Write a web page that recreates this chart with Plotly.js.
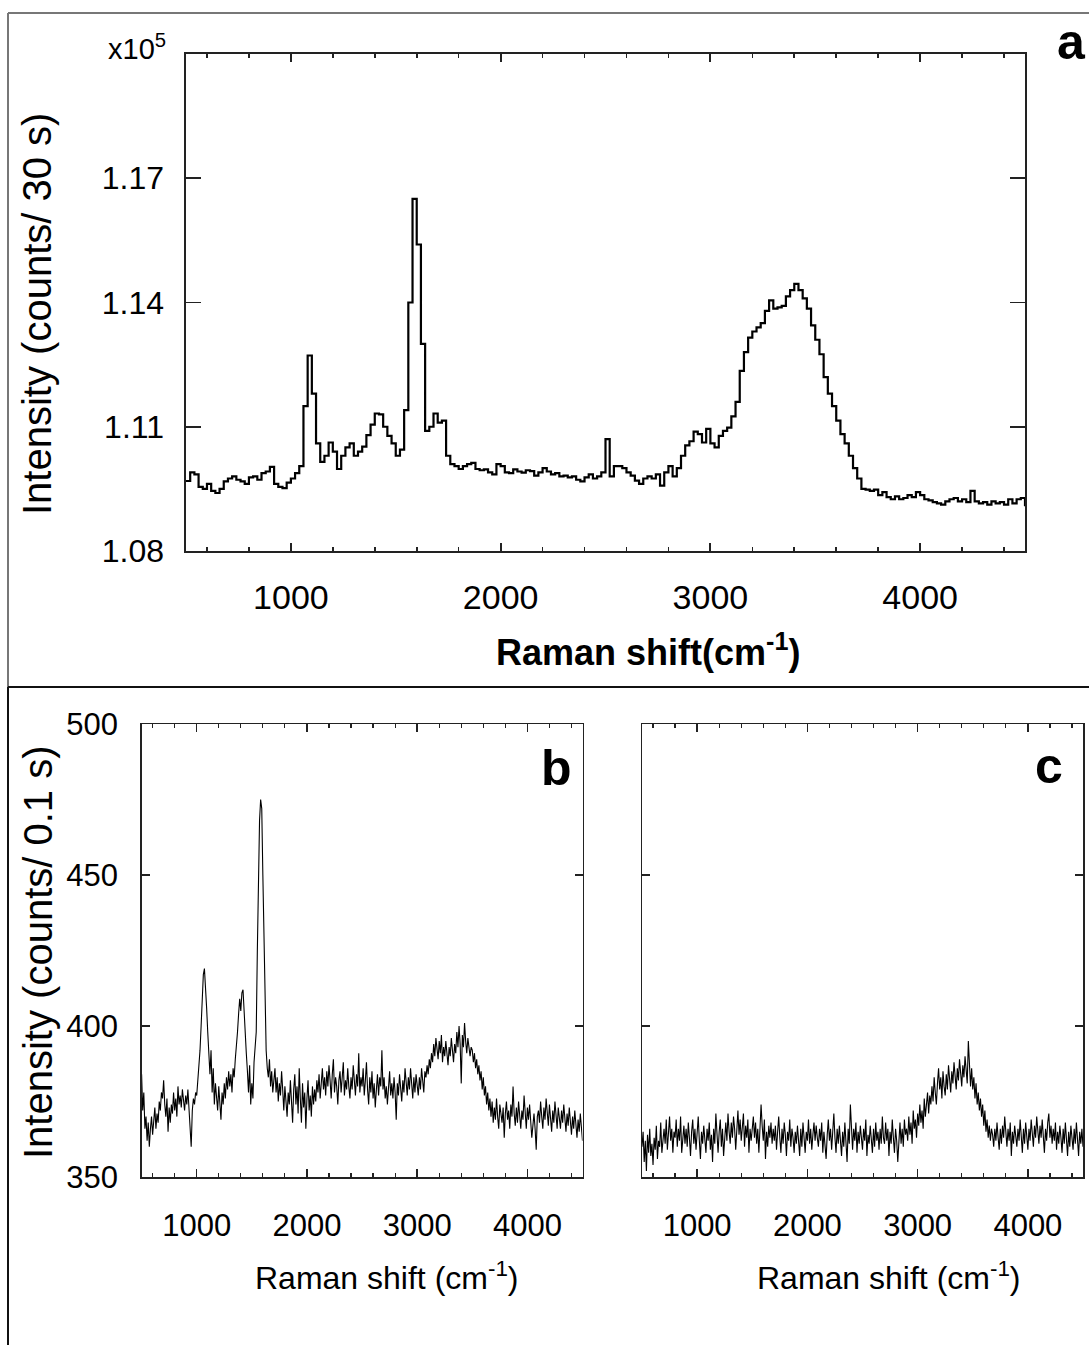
<!DOCTYPE html>
<html>
<head>
<meta charset="utf-8">
<script src="https://cdn.plot.ly/plotly-3.0.1.min.js"></script>
<style>html,body{margin:0;padding:0;background:#fff;}#chart{width:1089px;height:1345px;}</style>
</head>
<body>
<div id="chart"></div>
<script>
// ---------- DATA ----------
const shiftStart = 500;      // Raman shift of first sample (cm-1)
const stepA = 20;            // sampling step, panel a
const stepBC = 10;           // sampling step, panels b and c

// Panel a: intensity (x10^5 counts / 30 s)
const intensityA = [
1.0969,1.0990,1.0985,1.0955,1.0950,1.0962,1.0945,1.0940,1.0950,1.0968,
1.0975,1.0980,1.0972,1.0968,1.0962,1.0978,1.0980,1.0972,1.0988,1.0992,
1.1003,1.0962,1.0955,1.0952,1.0965,1.0975,1.0988,1.1005,1.1150,1.1272,
1.1180,1.1060,1.1015,1.1030,1.1062,1.1040,1.0998,1.1030,1.1050,1.1060,
1.1030,1.1040,1.1052,1.1080,1.1105,1.1132,1.1130,1.1100,1.1078,1.1060,
1.1030,1.1045,1.1140,1.1400,1.1650,1.1540,1.1300,1.1090,1.1100,1.1132,
1.1110,1.1115,1.1030,1.1010,1.1005,1.0998,1.1005,1.1010,1.1013,1.0998,
1.0995,1.0997,1.0990,1.0985,1.1010,1.1005,1.0990,1.0988,1.0997,1.0992,
1.0989,1.0995,1.0993,1.0982,1.0990,1.1000,1.0992,1.0985,1.0988,1.0980,
1.0982,1.0978,1.0980,1.0972,1.0968,1.0978,1.0985,1.0975,1.0980,1.0990,
1.1070,1.0980,1.1005,1.1005,1.1000,1.0990,1.0982,1.0970,1.0962,1.0975,
1.0980,1.0975,1.0985,1.0958,1.0990,1.1005,1.0980,1.1000,1.1030,1.1055,
1.1065,1.1088,1.1082,1.1062,1.1095,1.1060,1.1050,1.1078,1.1090,1.1098,
1.1125,1.1160,1.1235,1.1280,1.1315,1.1330,1.1340,1.1350,1.1380,1.1405,
1.1385,1.1388,1.1392,1.1415,1.1430,1.1445,1.1430,1.1410,1.1385,1.1345,
1.1310,1.1275,1.1220,1.1180,1.1150,1.1115,1.1082,1.1060,1.1030,1.1000,
1.0975,1.0950,1.0948,1.0945,1.0948,1.0935,1.0942,1.0930,1.0925,1.0932,
1.0925,1.0928,1.0935,1.0930,1.0942,1.0935,1.0925,1.0922,1.0918,1.0915,
1.0912,1.0920,1.0925,1.0928,1.0920,1.0925,1.0918,1.0945,1.0920,1.0915,
1.0918,1.0912,1.0920,1.0915,1.0918,1.0912,1.0925,1.0915,1.0925,1.0928,
1.0908
];

// Panel b: intensity (counts / 0.1 s)
const intensityB = [
384,372,378,366,370,362,368,360,366,370,364,369,373,366,371,368,375,372,378,376,
382,374,370,376,365,373,368,374,371,378,372,376,370,380,374,377,373,379,375,372,
377,374,379,373,364,360,372,376,374,378,377,382,385,392,400,410,417,419,414,406,
398,390,384,392,378,386,374,381,376,372,380,375,369,378,374,381,376,383,379,385,
380,384,378,386,383,389,393,398,404,409,405,411,412,404,394,391,385,378,387,374,
381,376,388,393,398,425,452,468,475,472,450,428,405,392,386,383,389,380,385,378,
382,386,378,383,375,381,377,385,379,372,380,375,370,378,374,382,376,368,379,384,
374,380,371,386,376,368,381,373,378,366,376,382,372,377,370,380,374,379,375,382,
378,384,376,381,386,379,383,377,385,380,387,382,376,384,389,378,383,380,374,382,
385,378,383,388,377,382,379,386,380,376,383,379,387,381,377,384,380,391,378,383,
380,386,377,382,388,379,374,383,378,385,376,381,373,379,384,377,383,380,392,379,
383,376,380,374,379,385,377,381,376,383,378,369,381,377,384,379,375,382,378,386,
380,377,383,379,386,381,376,383,378,384,380,377,383,379,386,382,378,385,383,387,
384,389,386,391,388,394,390,396,392,389,395,391,397,388,393,390,395,391,387,393,
390,396,392,388,394,391,398,393,400,394,381,397,393,401,395,391,396,392,390,393,
392,388,391,386,389,384,387,382,385,379,383,377,380,374,378,372,376,370,375,368,
373,369,376,370,366,374,371,368,373,363,371,375,369,372,366,374,370,380,371,367,
373,368,375,370,366,372,369,377,371,366,373,369,374,368,363,367,371,366,359,370,
372,368,375,370,366,373,369,376,371,367,374,370,365,372,368,375,370,366,373,369,
366,372,368,374,369,365,371,367,373,368,364,370,366,372,367,363,369,365,371,366,362
];

// Panel c: intensity (counts / 0.1 s)
const intensityC = [
360,365,355,362,352,364,358,366,357,361,354,363,359,367,356,362,360,368,358,363,
366,361,369,359,364,370,362,366,358,365,363,369,360,366,362,370,358,364,367,361,
366,360,368,363,357,365,369,361,366,359,364,370,362,356,365,361,367,363,358,366,
362,368,359,364,355,366,361,371,363,358,365,369,360,366,357,363,368,362,371,365,
361,368,363,370,366,359,367,372,364,369,362,366,371,360,367,363,369,358,366,362,
365,370,363,368,361,366,358,364,374,367,362,369,356,365,360,367,363,368,361,366,
362,367,359,365,370,363,358,366,361,368,364,357,365,362,369,360,366,363,358,365,
361,367,363,357,366,360,368,364,358,365,362,369,361,366,359,364,368,362,367,363,
360,366,362,368,358,365,361,356,364,369,362,366,359,364,371,363,358,366,361,367,
363,357,365,360,368,362,355,366,361,374,364,359,366,362,368,358,365,361,367,363,
359,366,362,369,357,364,361,367,363,358,366,360,368,362,365,359,366,361,370,363,
361,368,362,366,357,365,361,369,363,358,366,362,355,364,368,361,366,360,369,364,
366,362,370,364,368,361,372,366,369,363,371,367,374,368,372,366,376,370,373,378,
371,377,374,380,375,383,378,374,381,386,379,383,376,385,380,377,384,379,387,381,
378,385,381,388,383,379,386,382,389,384,380,387,383,390,385,381,395,384,380,386,
379,383,376,381,374,378,372,376,370,374,367,372,365,369,363,367,362,366,364,360,
366,362,368,363,359,366,361,367,363,370,364,360,366,362,368,357,365,361,367,363,
360,366,362,369,364,358,366,361,368,363,359,366,362,369,364,360,367,363,370,365,
361,367,363,369,364,358,366,362,368,371,363,367,361,366,362,368,359,365,361,367,
363,358,366,361,368,363,357,365,360,367,362,359,366,361,368,363,357,365,361,366,360
];

const xTickValues = [1000, 2000, 3000, 4000];
const yTicksA = [1.08, 1.11, 1.14, 1.17];
const yTickTextA = ['1.08', '1.11', '1.14', '1.17'];
const yTicksBC = [350, 400, 450, 500];
const yTickTextBC = ['350', '400', '450', '500'];

const titleYA = 'Intensity (counts/ 30 s)';
const titleXA = 'Raman shift(cm<sup>-1</sup>)';
const titleYB = 'Intensity (counts/ 0.1 s)';
const titleXBC = 'Raman shift (cm<sup>-1</sup>)';
const scaleLabel = 'x10<sup>5</sup>';
const panelLabels = ['a', 'b', 'c'];

// ---------- FIGURE ----------
const xA = intensityA.map((_, i) => shiftStart + i * stepA);
const xB = intensityB.map((_, i) => shiftStart + i * stepBC);
const xC = intensityC.map((_, i) => shiftStart + i * stepBC);

const FONT = 'Liberation Sans, Arial, Helvetica, sans-serif';
const W = 1089, H = 1345;
const px = v => v / W;
const py = v => 1 - v / H;

const traces = [
  {x: xA, y: intensityA, xaxis: 'x', yaxis: 'y', type: 'scatter', mode: 'lines',
   line: {color: '#000', width: 2.2, shape: 'hv'}, hoverinfo: 'skip'},
  {x: xB, y: intensityB, xaxis: 'x2', yaxis: 'y2', type: 'scatter', mode: 'lines',
   line: {color: '#000', width: 1.1}, hoverinfo: 'skip'},
  {x: xC, y: intensityC, xaxis: 'x3', yaxis: 'y3', type: 'scatter', mode: 'lines',
   line: {color: '#000', width: 1.1}, hoverinfo: 'skip'}
];

function xAxis(domain, anchor, fontSize, standoff, lw) {
  return {
    domain: domain, anchor: anchor, range: [500, 4500],
    tickmode: 'array', tickvals: xTickValues, ticktext: xTickValues.map(String),
    ticks: 'inside', ticklen: 8, tickwidth: lw, tickcolor: '#222',
    minor: {ticks: 'inside', tickmode: 'linear', tick0: 0, dtick: 200, ticklen: 4, tickwidth: lw * 0.8, tickcolor: '#222'},
    showline: true, linecolor: '#222', linewidth: lw, mirror: 'allticks',
    showgrid: false, zeroline: false,
    tickfont: {family: FONT, size: fontSize, color: '#000'},
    ticklabelstandoff: standoff, automargin: false, fixedrange: true
  };
}
function yAxis(domain, anchor, range, vals, text, fontSize, standoff, len, lw, show) {
  const ax = {
    domain: domain, anchor: anchor, range: range,
    tickmode: 'array', tickvals: vals,
    ticks: 'inside', ticklen: len, tickwidth: lw, tickcolor: '#222',
    showline: true, linecolor: '#222', linewidth: lw, mirror: 'allticks',
    showgrid: false, zeroline: false, showticklabels: show,
    tickfont: {family: FONT, size: fontSize, color: '#000'},
    ticklabelstandoff: standoff, automargin: false, fixedrange: true
  };
  if (show) ax.ticktext = text;
  return ax;
}

const ann = (text, x, y, size, bold, angle) => ({
  text: bold ? '<b>' + text + '</b>' : text,
  xref: 'paper', yref: 'paper', x: px(x), y: py(y),
  xanchor: 'center', yanchor: 'middle', showarrow: false,
  textangle: angle || 0,
  font: {family: FONT, size: size, color: '#000'}
});

const layout = {
  width: W, height: H,
  margin: {l: 0, r: 0, t: 0, b: 0},
  paper_bgcolor: '#fff', plot_bgcolor: 'rgba(0,0,0,0)',
  showlegend: false,
  xaxis: xAxis([px(186), px(1025)], 'y', 34, 15, 2),
  yaxis: yAxis([py(551), py(54)], 'x', [1.08, 1.20], yTicksA, yTickTextA, 32, 14, 15, 1.6, true),
  xaxis2: xAxis([px(141.6), px(582.5)], 'y2', 31, 20, 1.5),
  yaxis2: yAxis([py(1177), py(724)], 'x2', [350, 500], yTicksBC, yTickTextBC, 31, 16, 8, 1.5, true),
  xaxis3: xAxis([px(642), px(1083)], 'y3', 31, 20, 1.5),
  yaxis3: yAxis([py(1177), py(724)], 'x3', [350, 500], yTicksBC, yTickTextBC, 31, 16, 8, 1.5, false),
  annotations: [
    ann(scaleLabel, 137, 47, 29, false),
    ann(panelLabels[0], 1071, 42, 50, true),
    ann(titleYA, 37, 314, 40, false, -90),
    ann(titleXA, 648, 650, 36, true),
    ann(panelLabels[1], 556, 768, 50, true),
    ann(panelLabels[2], 1049, 766, 50, true),
    ann(titleYB, 38, 952, 40, false, -90),
    ann(titleXBC, 387, 1276, 32, false),
    ann(titleXBC, 889, 1276, 32, false)
  ],
  shapes: [
    {type: 'line', xref: 'paper', yref: 'paper', x0: px(8), x1: 1, y0: py(13), y1: py(13), line: {color: '#777', width: 2}},
    {type: 'line', xref: 'paper', yref: 'paper', x0: px(8), x1: px(8), y0: py(13), y1: py(687), line: {color: '#777', width: 2}},
    {type: 'line', xref: 'paper', yref: 'paper', x0: px(8), x1: 1, y0: py(687), y1: py(687), line: {color: '#111', width: 2}},
    {type: 'line', xref: 'paper', yref: 'paper', x0: px(8), x1: px(8), y0: py(687), y1: 0, line: {color: '#111', width: 2}}
  ]
};

Plotly.newPlot('chart', traces, layout, {staticPlot: true, displayModeBar: false});
</script>
</body>
</html>
